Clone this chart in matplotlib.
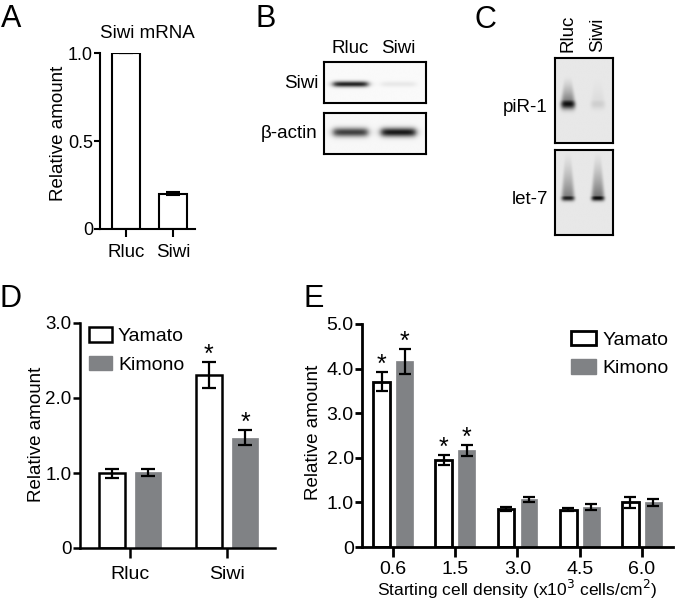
import numpy as np
import matplotlib
matplotlib.use("Agg")
import matplotlib.pyplot as plt
from matplotlib.patches import Patch

plt.rcParams['font.family'] = ['Liberation Sans', 'DejaVu Sans']

# ---------------- data ----------------
a_categories = ['Rluc', 'Siwi']
a_values = [1.0, 0.20]
a_errors = [0.0, 0.008]

blot_lanes = ['Rluc', 'Siwi']
b_siwi_band = [0.85, 0.07]
b_actin_band = [0.72, 0.88]
c_pir1_band = [0.85, 0.10]
c_let7_band = [0.80, 0.88]

d_categories = ['Rluc', 'Siwi']
d_yamato = [1.00, 2.31]
d_yamato_err = [0.06, 0.17]
d_kimono = [1.01, 1.47]
d_kimono_err = [0.05, 0.10]
d_signif_yamato = [False, True]
d_signif_kimono = [False, True]

e_categories = ['0.6', '1.5', '3.0', '4.5', '6.0']
e_yamato = [3.71, 1.95, 0.85, 0.84, 1.00]
e_yamato_err = [0.22, 0.12, 0.04, 0.03, 0.13]
e_kimono = [4.16, 2.17, 1.07, 0.90, 1.00]
e_kimono_err = [0.28, 0.12, 0.05, 0.06, 0.07]
e_signif_yamato = [True, True, False, False, False]
e_signif_kimono = [True, True, False, False, False]

GRAY = '#808285'
W, H = 675, 603

fig = plt.figure(figsize=(6.75, 6.03), dpi=100)


def px_axes(x0, y0, x1, y1):
    return fig.add_axes([x0 / W, 1 - y1 / H, (x1 - x0) / W, (y1 - y0) / H])


def ftext(x, y, s, **kw):
    fig.text(x / W, 1 - y / H, s, **kw)


def style_axes(ax, lw, tick_len_y=4, tick_len_x=6, fs_y=12, fs_x=13, padx=5):
    for s in ['top', 'right']:
        ax.spines[s].set_visible(False)
    for s in ['left', 'bottom']:
        ax.spines[s].set_linewidth(lw)
    ax.tick_params(axis='y', length=tick_len_y, width=lw, labelsize=fs_y, pad=1)
    ax.tick_params(axis='x', length=tick_len_x, width=lw, labelsize=fs_x, pad=padx)


# ---------------- Panel A ----------------
axA = px_axes(100, 53, 195, 229)
xa = np.arange(len(a_categories))
axA.bar(xa, a_values, width=0.59, color='white', edgecolor='black', linewidth=1.5)
axA.errorbar(xa, a_values, yerr=a_errors, fmt='none', ecolor='black', elinewidth=1.5, capsize=5, capthick=1.5)
axA.set_xlim(-0.547, 1.453)
axA.set_ylim(0, 1.0)
axA.set_yticks([0, 0.5, 1.0])
axA.set_yticklabels(['0', '0.5', '1.0'])
axA.set_xticks(xa)
axA.set_xticklabels(a_categories)
style_axes(axA, 1.5, fs_y=13, fs_x=13.5)
axA.set_ylabel('Relative amount', fontsize=13.5)
axA.yaxis.set_label_coords(-0.35, 0.543)
axA.set_title('Siwi mRNA', fontsize=13.5, pad=11)


# ---------------- Blot helpers ----------------
def blot_image(ax, intens, left, right, yc, sy, w_band, bg, smear=0.0, smear_top=0.0,
               w_top=None, sharp=False, ny=240, nx=160):
    x = np.linspace(left, right, nx)
    y = np.linspace(0, 1, ny)  # 0 top, 1 bottom
    X, Y = np.meshgrid(x, y)
    img = np.full_like(X, bg)
    if w_top is None:
        w_top = w_band
    for i, v in enumerate(intens):
        ramp = np.clip((Y - smear_top) / max(yc - smear_top, 1e-3), 0, 1)
        width = w_top + (w_band - w_top) * ramp
        if sharp:
            lane = 1.0 / (1 + np.exp((np.abs(X - i) - width) / 0.04))
        else:
            lane = np.exp(-(np.abs(X - i) / width) ** 4)
        band = np.exp(-((Y - yc) / sy) ** 2)
        sm = np.where((Y > smear_top) & (Y < yc), smear * ramp ** 1.5, 0.0)
        img = img + v * lane * np.maximum(band, sm)
    img = np.clip(img, 0, 1)
    ax.imshow(img, cmap='gray_r', vmin=0, vmax=1, aspect='auto',
              extent=[left, right, 1, 0], interpolation='bilinear')
    ax.set_xlim(left, right)
    ax.set_ylim(1, 0)
    ax.set_xticks([])
    ax.set_yticks([])
    for s in ax.spines.values():
        s.set_linewidth(1.5)


# ---------------- Panel B ----------------
axB1 = px_axes(324, 62, 426, 103)
blot_image(axB1, b_siwi_band, -0.55, 1.57, 0.54, 0.07, 0.36, 0.02, sharp=True)
axB2 = px_axes(324, 113, 426, 154)
blot_image(axB2, b_actin_band, -0.55, 1.57, 0.47, 0.11, 0.36, 0.03, sharp=True)
for i, lab in enumerate(blot_lanes):
    axB1.text(i, -0.12, lab, ha='center', va='bottom', fontsize=13.5, clip_on=False)
ftext(318, 84, 'Siwi', ha='right', va='center', fontsize=13.5)
ftext(318, 133, 'β-actin', ha='right', va='center', fontsize=13.5)

# ---------------- Panel C ----------------
axC1 = px_axes(555, 58, 613, 143)
blot_image(axC1, c_pir1_band, -0.43, 1.5, 0.54, 0.06, 0.24, 0.09, smear=0.6, smear_top=0.2, w_top=0.12)
axC2 = px_axes(555, 150, 613, 235)
blot_image(axC2, c_let7_band, -0.43, 1.5, 0.565, 0.035, 0.22, 0.09, smear=0.55, smear_top=0.0, w_top=0.1)
for i, lab in enumerate(blot_lanes):
    axC1.text(i, -0.07, lab, ha='center', va='bottom', rotation=90, fontsize=13.5, clip_on=False)
ftext(548, 108, 'piR-1', ha='right', va='center', fontsize=13.5)
ftext(548, 200, 'let-7', ha='right', va='center', fontsize=13.5)

# ---------------- Panel D ----------------
axD = px_axes(80, 323, 275, 548)
xd = np.arange(len(d_categories))
off_d, w_d = 0.186, 0.268
axD.bar(xd - off_d, d_yamato, width=w_d, color='white', edgecolor='black', linewidth=1.8, label='Yamato')
axD.bar(xd + off_d, d_kimono, width=w_d, color=GRAY, edgecolor=GRAY, linewidth=0.5, label='Kimono')
axD.errorbar(xd - off_d, d_yamato, yerr=d_yamato_err, fmt='none', ecolor='black', elinewidth=1.6, capsize=5, capthick=1.6)
axD.errorbar(xd + off_d, d_kimono, yerr=d_kimono_err, fmt='none', ecolor='black', elinewidth=1.6, capsize=5, capthick=1.6)
for i in range(len(d_categories)):
    if d_signif_yamato[i]:
        axD.text(xd[i] - off_d, d_yamato[i] + d_yamato_err[i], '*', ha='center', va='baseline', fontsize=18)
    if d_signif_kimono[i]:
        axD.text(xd[i] + off_d, d_kimono[i] + d_kimono_err[i], '*', ha='center', va='baseline', fontsize=18)
axD.set_xlim(-0.515, 1.495)
axD.set_ylim(0, 3.0)
axD.set_yticks([0, 1.0, 2.0, 3.0])
axD.set_yticklabels(['0', '1.0', '2.0', '3.0'])
axD.set_xticks(xd)
axD.set_xticklabels(d_categories)
style_axes(axD, 1.8, tick_len_y=5, tick_len_x=7, fs_y=13.5, fs_x=14, padx=6)
axD.set_ylabel('Relative amount', fontsize=13.5)
axD.yaxis.set_label_coords(-0.18, 0.507)
hD = [Patch(facecolor='white', edgecolor='black', linewidth=1.8), Patch(facecolor=GRAY, edgecolor=GRAY)]
axD.legend(hD, ['Yamato', 'Kimono'], loc='upper left', bbox_to_anchor=(0.045, 0.98), frameon=False,
           fontsize=14, handlelength=1.2, handleheight=0.75, handletextpad=0.3, labelspacing=0.55,
           borderpad=0, borderaxespad=0)

# ---------------- Panel E ----------------
axE = px_axes(362, 324, 673, 547)
xe = np.arange(len(e_categories))
off_e, w_e = 0.185, 0.27
axE.bar(xe - off_e, e_yamato, width=w_e, color='white', edgecolor='black', linewidth=2.0, label='Yamato')
axE.bar(xe + off_e, e_kimono, width=w_e, color=GRAY, edgecolor=GRAY, linewidth=0.5, label='Kimono')
axE.errorbar(xe - off_e, e_yamato, yerr=e_yamato_err, fmt='none', ecolor='black', elinewidth=1.6, capsize=4, capthick=1.6)
axE.errorbar(xe + off_e, e_kimono, yerr=e_kimono_err, fmt='none', ecolor='black', elinewidth=1.6, capsize=4, capthick=1.6)
for i in range(len(e_categories)):
    if e_signif_yamato[i]:
        axE.text(xe[i] - off_e, e_yamato[i] + e_yamato_err[i], '*', ha='center', va='baseline', fontsize=18)
    if e_signif_kimono[i]:
        axE.text(xe[i] + off_e, e_kimono[i] + e_kimono_err[i], '*', ha='center', va='baseline', fontsize=18)
axE.set_xlim(-0.5, 4.5)
axE.set_ylim(0, 5.0)
axE.set_yticks([0, 1.0, 2.0, 3.0, 4.0, 5.0])
axE.set_yticklabels(['0', '1.0', '2.0', '3.0', '4.0', '5.0'])
axE.set_xticks(xe)
axE.set_xticklabels(e_categories)
style_axes(axE, 2.0, tick_len_y=5, tick_len_x=7, fs_y=14, fs_x=14, padx=3)
axE.set_ylabel('Relative amount', fontsize=13.5)
axE.yaxis.set_label_coords(-0.129, 0.516)
axE.set_xlabel('Starting cell density (x10$^3$ cells/cm$^2$)', fontsize=12.5, labelpad=0)
hE = [Patch(facecolor='white', edgecolor='black', linewidth=2.0), Patch(facecolor=GRAY, edgecolor=GRAY)]
axE.legend(hE, ['Yamato', 'Kimono'], loc='upper left', bbox_to_anchor=(0.672, 0.97), frameon=False,
           fontsize=14, handlelength=1.3, handleheight=0.75, handletextpad=0.3, labelspacing=0.55,
           borderpad=0, borderaxespad=0)

# ---------------- panel letters ----------------
for lab, x, y in [('A', 1, 27), ('B', 255, 27), ('C', 474, 28), ('D', 0, 307), ('E', 303, 307)]:
    ftext(x, y, lab, ha='left', va='baseline', fontsize=22)

fig.savefig('out.png', dpi=100)
